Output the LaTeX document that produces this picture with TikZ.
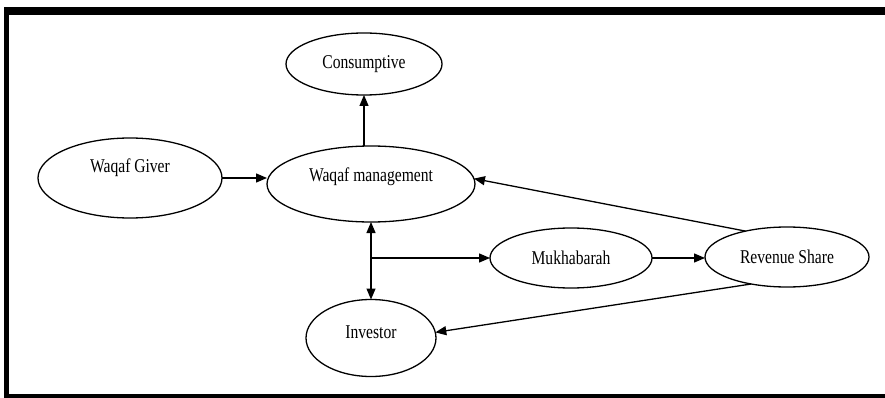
\documentclass[tikz,border=0pt]{standalone}
\usepackage{fontspec}
\setmainfont{Liberation Serif}[FakeStretch=0.8]
\usetikzlibrary{arrows.meta,calc,shapes.geometric}
\begin{document}
\begin{tikzpicture}[x=1pt,y=-1pt,
  ell/.style={draw,ellipse,line width=1.3pt,inner sep=0pt,outer sep=0pt},
  lbl/.style={font=\fontsize{19.5}{22}\selectfont},
  arr/.style={line width=1.3pt,-{Triangle[length=11pt,width=9pt]}},
  arrtwo/.style={line width=1.3pt,{Triangle[length=11pt,width=9pt]}-{Triangle[length=11pt,width=9pt]}}]
\useasboundingbox (0,0) rectangle (885,398);
\fill[black] (4,7) rectangle (885,15);
\fill[black] (4,7) rectangle (9,398);
\fill[black] (4,394) rectangle (885,398);
\node[ell,minimum width=156pt,minimum height=62pt,label={[lbl]center:Consumptive}] (cons) at (364,64) {};
\node[ell,minimum width=184pt,minimum height=80pt,label={[lbl,yshift=10pt]center:Waqaf Giver}] (giver) at (130,178) {};
\node[ell,minimum width=208pt,minimum height=76pt,label={[lbl,yshift=7pt]center:Waqaf management}] (wm) at (371,184) {};
\node[ell,minimum width=162pt,minimum height=60pt,label={[lbl]center:Mukhabarah}] (muk) at (571,258) {};
\node[ell,minimum width=164pt,minimum height=60pt,label={[lbl]center:Revenue Share}] (rev) at (787,257) {};
\node[ell,minimum width=130pt,minimum height=77pt,label={[lbl,yshift=6pt]center:Investor}] (inv) at (371,338) {};
\draw[arr] (wm.north -| cons.south) -- (cons.south);
\draw[arr] (giver.east) -- (giver.east -| wm.west);
\draw[arr] (rev.148) -- (wm.3);
\draw[arrtwo] (wm.south) -- (inv.north);
\draw[arr] (wm.south |- muk.west) -- (muk.west);
\draw[arr] (muk.east) -- (muk.east -| rev.west);
\draw[arr] (rev.217) -- (inv.5);
\end{tikzpicture}
\end{document}
